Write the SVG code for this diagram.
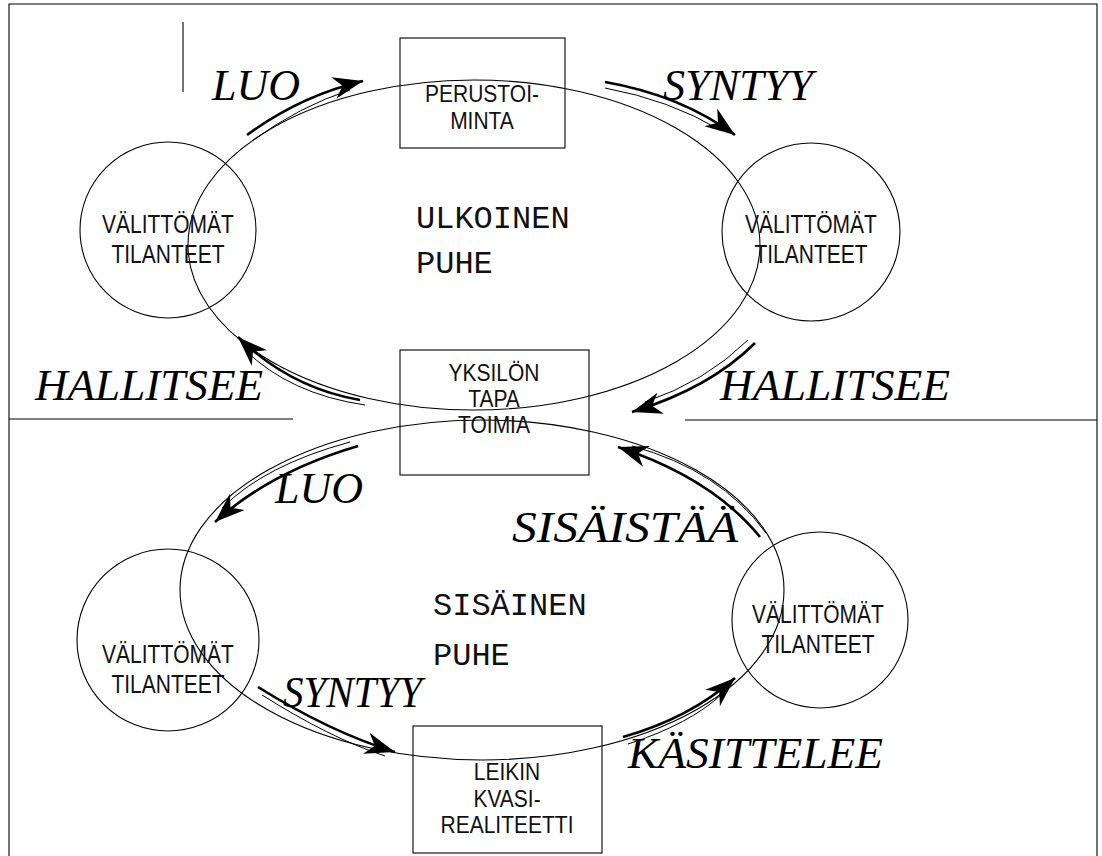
<svg xmlns="http://www.w3.org/2000/svg" width="1102" height="856" viewBox="0 0 1102 856">
<style>
.ln{fill:none;stroke:#000;stroke-width:1.1}
.box{fill:none;stroke:#000;stroke-width:1.1}
.sans{font-family:"Liberation Sans",Arial,sans-serif;font-size:21px;fill:#111;text-anchor:middle}
.mono{font-family:"Liberation Mono","Courier New",monospace;font-size:32px;fill:#111}
.scr{font-family:"Liberation Serif","Times New Roman",serif;font-style:italic;font-size:44px;fill:#000}
.arr{fill:none;stroke:#000;stroke-width:2.6;marker-end:url(#ah)}
.arr2{fill:none;stroke:#000;stroke-width:1}
</style>
<defs>
<marker id="ah" markerUnits="userSpaceOnUse" markerWidth="32" markerHeight="26" viewBox="0 0 32 26" refX="30" refY="13" orient="auto">
<path d="M0,2 L30,13 L0,24 L9,13 z" fill="#000"/>
</marker>
</defs>
<path class="ln" d="M9,856 V4 H1097 V856"/>
<line class="ln" x1="183" y1="22" x2="183" y2="92"/>
<line class="ln" x1="9" y1="419" x2="293" y2="419"/>
<line class="ln" x1="685" y1="420" x2="1097" y2="420"/>
<g id="ellipse-top"><ellipse class="ln" cx="474" cy="245" rx="286" ry="165"/></g>
<g id="ellipse-bottom"><ellipse class="ln" cx="482" cy="590" rx="302" ry="170"/></g>
<g id="circle-tl"><circle class="ln" cx="168" cy="230" r="88"/><text class="sans" transform="translate(168,233) scale(1,1.2)">VÄLITTÖMÄT</text><text class="sans" transform="translate(168,263) scale(1,1.2)">TILANTEET</text></g>
<g id="circle-tr"><circle class="ln" cx="811" cy="232" r="89"/><text class="sans" transform="translate(811,233) scale(1,1.2)">VÄLITTÖMÄT</text><text class="sans" transform="translate(811,263) scale(1,1.2)">TILANTEET</text></g>
<g id="circle-bl"><circle class="ln" cx="168" cy="640" r="91"/><text class="sans" transform="translate(168,663) scale(1,1.2)">VÄLITTÖMÄT</text><text class="sans" transform="translate(168,693) scale(1,1.2)">TILANTEET</text></g>
<g id="circle-br"><circle class="ln" cx="820" cy="620" r="88"/><text class="sans" transform="translate(818,623) scale(1,1.2)">VÄLITTÖMÄT</text><text class="sans" transform="translate(818,653) scale(1,1.2)">TILANTEET</text></g>
<g id="box-perustoiminta"><rect class="box" x="400" y="38" width="165" height="110"/><text class="sans" transform="translate(482,102) scale(1,1.1)">PERUSTOI-</text><text class="sans" transform="translate(482,129) scale(1,1.1)">MINTA</text></g>
<g id="box-yksilon"><rect class="box" x="400" y="350" width="189" height="125"/><text class="sans" transform="translate(494,381) scale(1,1.1)">YKSILÖN</text><text class="sans" transform="translate(494,407) scale(1,1.1)">TAPA</text><text class="sans" transform="translate(494,433) scale(1,1.1)">TOIMIA</text></g>
<g id="box-leikin"><rect class="box" x="413" y="726" width="189" height="127"/><text class="sans" transform="translate(507,780) scale(1,1.1)">LEIKIN</text><text class="sans" transform="translate(507,807) scale(1,1.1)">KVASI-</text><text class="sans" transform="translate(507,833) scale(1,1.1)">REALITEETTI</text></g>
<g id="label-ulkoinen"><text class="mono" x="416" y="228">ULKOINEN</text><text class="mono" x="416" y="273">PUHE</text></g>
<g id="label-sisainen"><text class="mono" x="433" y="615">SISÄINEN</text><text class="mono" x="433" y="665">PUHE</text></g>
<g id="connectors">
<path class="arr" d="M247,135 Q300,96 363,81"/>
<path class="arr2" d="M252,141 Q300,106 350,90"/>
<path class="arr" d="M605,82 Q680,95 735,135"/>
<path class="arr2" d="M605,88 Q670,100 720,130"/>
<path class="arr" d="M360,400 Q290,388 238,337"/>
<path class="arr2" d="M365,405 Q290,394 245,350"/>
<path class="arr" d="M755,343 Q710,388 632,412"/>
<path class="arr2" d="M748,340 Q705,382 645,402"/>
<path class="arr" d="M358,446 Q270,472 215,522"/>
<path class="arr2" d="M350,442 Q265,465 222,508"/>
<path class="arr" d="M760,537 Q712,478 618,447"/>
<path class="arr2" d="M766,533 Q720,470 632,446"/>
<path class="arr" d="M258,687 Q330,732 395,752"/>
<path class="arr2" d="M262,695 Q330,738 385,756"/>
<path class="arr" d="M623,737 Q690,718 735,678"/>
<path class="arr2" d="M628,744 Q690,724 722,694"/>
</g>
<g id="labels">
<text class="scr" x="212" y="100" font-size="42">LUO</text>
<text class="scr" x="663" y="100" textLength="150" lengthAdjust="spacingAndGlyphs">SYNTYY</text>
<text class="scr" x="35" y="400" textLength="228" lengthAdjust="spacingAndGlyphs">HALLITSEE</text>
<text class="scr" x="720" y="400" textLength="230" lengthAdjust="spacingAndGlyphs">HALLITSEE</text>
<text class="scr" x="275" y="503">LUO</text>
<text class="scr" x="512" y="542" textLength="226" lengthAdjust="spacingAndGlyphs">SISÄISTÄÄ</text>
<text class="scr" x="283" y="707" textLength="139" lengthAdjust="spacingAndGlyphs">SYNTYY</text>
<text class="scr" x="628" y="768" textLength="255" lengthAdjust="spacingAndGlyphs">KÄSITTELEE</text>
</g>
</svg>
